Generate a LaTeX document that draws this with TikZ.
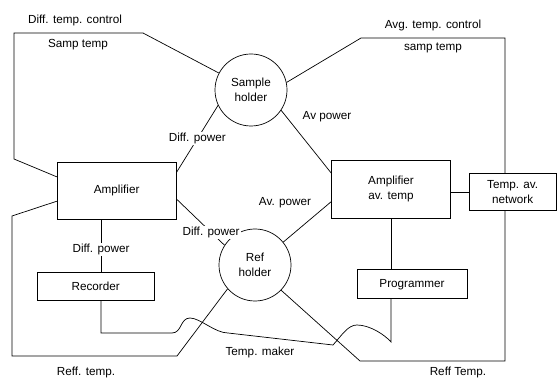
\documentclass[tikz,border=0pt]{standalone}
\usepackage{fontspec}
\setmainfont{Liberation Sans}
\usetikzlibrary{positioning}

\begin{document}
\begin{tikzpicture}[
  font=\fontsize{10}{13}\selectfont,
  line width=0.6pt,
  box/.style={draw, align=center, inner sep=0pt},
  holder/.style={draw, circle, minimum size=2.16cm, align=center, inner sep=0pt},
  lbl/.style={inner sep=1pt},
  cut/.style={lbl, fill=white},
]
\useasboundingbox (0,0) rectangle (16.74,11.43);
% Holders
\node[holder] (samp) at (7.53,8.73) {Sample\\holder};
\node[holder] (ref)  at (7.65,3.48) {Ref\\holder};
% Boxes
\node[box, minimum width=3.57cm, minimum height=1.71cm] (amp)   at (3.50,5.71)  {Amplifier};
\node[box, minimum width=3.57cm, minimum height=1.74cm] (ampav) at (11.73,5.76) {Amplifier\\av. temp};
\node[box, minimum width=2.61cm, minimum height=1.11cm] (net)   at (15.38,5.66) {Temp. av.\\network};
\node[box, minimum width=3.51cm, minimum height=0.84cm] (rec)   at (2.87,2.85)  {Recorder};
\node[box, minimum width=3.30cm, minimum height=0.87cm] (prog)  at (12.36,2.90) {Programmer};
% Corner points
\coordinate (dp) at (3.03,3.93);
\coordinate (tr) at (15.15,10.29);
\coordinate (br) at (15.15,0.60);
% Differential loop
\draw (samp) -- (4.29,10.44) -- (0.42,10.44) -- (0.42,6.66) -- (amp.167);
\draw (amp.190) -- (0.36,4.95) -- (0.36,0.75) -- (5.31,0.75) -- (ref.221);
\draw (amp.17) -- node[cut, pos=0.5] {Diff. power} (samp.205);
\draw (amp.-8) -- node[cut, pos=0.72] {Diff. power} (ref.147);
\draw (amp.south -| dp) -- node[cut, pos=0.58] {Diff. power} (rec.north -| dp);
% Average loop
\draw (samp.326) -- (ampav.165);
\draw (ref.39) -- (ampav.192);
\draw (samp.12) -- (10.83,10.29) -- (tr) -- (tr |- net.north);
\draw (br |- net.south) -- (br) -- (10.80,0.60) -- (ref.-44);
\draw (net.west) -- (net.west -| ampav.east);
\draw (ampav.south) -- (ampav.south |- prog.north);
% Temp. maker wire
\draw (rec.south -| dp) -- (3.03,1.44) -- (5.16,1.44)
  .. controls (5.46,1.44) and (5.40,1.89) .. (5.70,1.89)
  .. controls (6.00,1.89) and (6.45,1.44) .. (6.84,1.44)
  -- (9.99,1.08)
  .. controls (10.26,1.38) and (10.44,1.68) .. (10.71,1.68)
  .. controls (11.10,1.68) and (11.55,1.38) .. (11.73,1.17)
  -- (prog.south -| ampav.south);
% Labels
\node[lbl] (dtc)  at (2.25,10.83) {Diff. temp. control};
\node[lbl] (stl)  at (2.34,10.08) {Samp temp};
\node[lbl] (atc)  at (12.99,10.68) {Avg. temp. control};
\node[lbl] (str)  at (12.99,9.99) {samp temp};
\node[lbl] (avp1) at (9.81,7.92) {Av power};
\node[lbl] (avp2) at (8.55,5.34) {Av. power};
\node[lbl] (tm)   at (7.80,0.87) {Temp. maker};
\node[lbl] (rt1)  at (2.58,0.27) {Reff. temp.};
\node[lbl] (rt2)  at (13.74,0.27) {Reff Temp.};
\end{tikzpicture}
\end{document}
